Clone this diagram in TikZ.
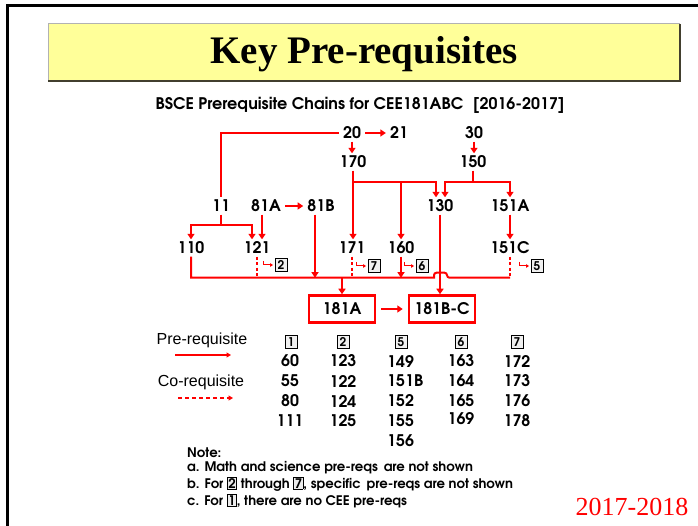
\documentclass[tikz,border=0pt]{standalone}
\usepackage{fontspec}
\usetikzlibrary{arrows.meta}
\setmainfont{Liberation Serif}
\newfontfamily\cg{TeX Gyre Adventor}
\newfontfamily\arialf{Liberation Sans}
\definecolor{titleyellow}{HTML}{FFFF99}
\definecolor{cred}{HTML}{FF0000}
\newcommand\bxd[1]{{\setlength\fboxsep{0.6pt}\setlength\fboxrule{0.7pt}\fcolorbox{black}{gray!15}{#1}}}
\tikzset{
  lbl/.style={font=\cg\bfseries\fontsize{16}{16}\selectfont, inner xsep=4pt, inner ysep=3pt, text height=11pt, text depth=0pt},
  pre/.style={draw=cred, line width=2pt, -{Triangle[length=5.5pt,width=7pt]}},
  wire/.style={draw=cred, line width=2pt},
  co/.style={draw=cred, line width=2pt, dash pattern=on 3pt off 2.5pt},
  hk/.style={draw=cred, line width=1pt, -{Triangle[length=3pt,width=3.5pt]}},
  tagbox/.style={draw=black, line width=0.9pt, fill=gray!12, inner sep=0pt, minimum width=12pt, minimum height=13pt, font=\cg\bfseries\fontsize{12}{12}\selectfont},
  bignode/.style={draw=cred, line width=2.5pt, minimum width=66pt, minimum height=27pt, inner sep=0pt, font=\cg\bfseries\fontsize{16}{16}\selectfont},
  num/.style={font=\cg\bfseries\fontsize{16}{16}\selectfont, inner sep=0pt},
  note/.style={font=\cg\bfseries\fontsize{13.2}{13.2}\selectfont, anchor=west, inner sep=0pt},
  leg/.style={font=\arialf\fontsize{16}{16}\selectfont, inner sep=0pt},
}
\begin{document}
\begin{tikzpicture}[x=1pt,y=-1pt]
\useasboundingbox (0,0) rectangle (698,526);
\fill[white] (0,0) rectangle (698,526);
% frame
\draw[black, line width=3pt] (7.5,526) -- (7.5,5.5) -- (698,5.5);
% title box
\fill[titleyellow] (48,24) rectangle (680,81);
\draw[gray!60, line width=1pt] (48,81) -- (48,24) -- (680,24);
\draw[black!70!olive, line width=1.2pt] (680,24) -- (680,81) -- (48,81);
\node[font=\bfseries\fontsize{39}{39}\selectfont] (title) at (364,54) {Key Pre-requisites};
\node[font=\cg\bfseries\fontsize{16}{16}\selectfont] (sub) at (360,105) {BSCE Prerequisite Chains for CEE181ABC\,\, [2016-2017]};

% chain nodes
\node[lbl] (n20) at (352,133) {20};
\node[lbl] (n21) at (399,133) {21};
\node[lbl] (n30) at (474,133) {30};
\node[lbl] (n170) at (353,162) {170};
\node[lbl] (n150) at (473,162) {150};
\node[lbl] (n11) at (221,206) {11};
\node[lbl] (n81A) at (266,206) {81A};
\node[lbl] (n81B) at (321,206) {81B};
\node[lbl] (n130) at (440,206) {130};
\node[lbl] (n151A) at (510,206) {151A};
\node[lbl] (n110) at (191,248) {110};
\node[lbl] (n121) at (257,248) {121};
\node[lbl] (n171) at (352,248) {171};
\node[lbl] (n160) at (401,248) {160};
\node[lbl] (n151C) at (510,248) {151C};
\node[bignode] (n181A) at (342,309) {181A};
\node[bignode] (n181BC) at (442,309) {181B-C};

% tags
\node[tagbox] (t2) at (281,265) {2};
\node[tagbox] (t7) at (374,266) {7};
\node[tagbox] (t6) at (422,266) {6};
\node[tagbox] (t5) at (537,266) {5};
\foreach \t in {t2,t7,t6,t5}{
  \draw[hk] ([xshift=-11pt,yshift=4pt]\t.west) |- ([xshift=-1.5pt]\t.west);
}

% connectors
\draw[pre] (n20) -- (n21);
\draw[pre] (n20.south) -- (n20.south |- n170.north);
\draw[wire] (n20.west) -| (n11.north);
\draw[pre] (n30.south) -- (n30.south |- n150.north);

\path (n170.south) ++(0,11) coordinate (j170);
\draw[pre] (n170.south) -- (n170.south |- n171.north);
\draw[pre] (j170) -| ([xshift=-4pt]n130.north);
\draw[pre] (j170 -| n160) -- (n160.north);

\path (n150.south) ++(0,11) coordinate (j150);
\draw[wire] (n150.south) -- (j150);
\draw[pre] (j150) -| ([xshift=5pt]n130.north);
\draw[pre] (j150) -| (n151A.north);

\path (n11.south) ++(0,10) coordinate (j11);
\draw[wire] (n11.south) -- (j11);
\draw[pre] (j11) -| (n110.north);
\draw[pre] (j11) -| ([xshift=-5pt]n121.north);
\draw[pre] ([xshift=-4pt]n81A.south) -- ([xshift=-4pt]n81A.south |- n121.north);
\draw[pre] (n81A) -- (n81B);

\draw[pre] (n151A) -- (n151C);

% bus
\path (n110.south) ++(0,21) coordinate (busL);
\coordinate (hop) at (busL -| n130);
\draw[wire] (n110.south) -- (busL) -- ([xshift=-6pt]hop) [rounded corners=2.5pt] -- ([xshift=-6pt,yshift=5pt]hop) -- ([xshift=7pt,yshift=5pt]hop) -- ([xshift=7pt]hop) [sharp corners] -- (busL -| n151C);
\draw[co] (n121.south) -- (n121.south |- busL);
\draw[co] (n171.south) -- (n171.south |- busL);
\draw[co] (n151C.south) -- (n151C.south |- busL);
\draw[pre] ([xshift=-6pt]n81B.south) -- ([xshift=-6pt]n81B.south |- busL);
\draw[pre] (n160.south) -- (n160.south |- busL);
\draw[pre] (busL -| n181A) -- (n181A.north);
\draw[pre] (n130.south) -- (n130.south |- n181BC.north);
\draw[pre, shorten <=5pt, shorten >=5pt] (n181A) -- (n181BC);

% legend
\node[leg] (lpre) at (202,340) {Pre-requisite};
\node[leg] (lco) at (201,382) {Co-requisite};
\coordinate (pa) at (175,355); \coordinate (pb) at (231,355);
\coordinate (ca) at (178,398); \coordinate (cb) at (233,398);
\draw[draw=cred, line width=1.5pt, -{Triangle[length=4.5pt,width=5pt]}] (pa) -- (pb);
\draw[draw=cred, line width=1.5pt, dash pattern=on 4pt off 3pt, -{Triangle[length=4.5pt,width=5pt]}] (ca) -- (cb);

% columns
\node[tagbox] (h1) at (291,342) {1};
\node[tagbox] (h2) at (343,342) {2};
\node[tagbox] (h5) at (401,342) {5};
\node[tagbox] (h6) at (461,342) {6};
\node[tagbox] (h7) at (517,342) {7};
\foreach \v [count=\i] in {60,55,80,111}{\node[num] (c1-\i) at (290,341+20*\i) {\v};}
\foreach \v [count=\i] in {123,122,124,125}{\node[num] (c2-\i) at (343,341+20*\i) {\v};}
\foreach \v [count=\i] in {149,151B,152,155,156}{\node[num,anchor=west] (c5-\i) at (387,341+20*\i) {\v};}
\foreach \v/\yy [count=\i] in {163/361,164/381,165/401,169/419}{\node[num] (c6-\i) at (461,\yy) {\v};}
\foreach \v [count=\i] in {172,173,176,178}{\node[num] (c7-\i) at (517,341+20*\i) {\v};}

% notes
\node[note] (nt0) at (187,453) {Note:};
\node[note] (nta) at (187,468) {a. Math and science pre-reqs\, are not shown};
\node[note] (ntb) at (187,484) {b. For \bxd{2} through \bxd{7}, specific\, pre-reqs are not shown};
\node[note] (ntc) at (187,501) {c. For \bxd{1}, there are no CEE pre-reqs};

\node[font=\fontsize{26}{26}\selectfont, text=cred] (yr) at (632,507) {2017-2018};
\end{tikzpicture}
\end{document}
